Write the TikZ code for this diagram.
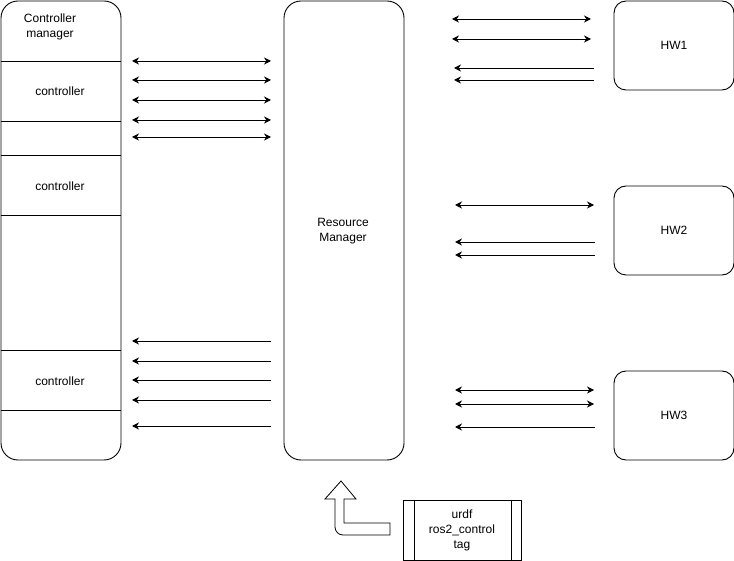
\documentclass[tikz,border=0pt]{standalone}
\usepackage{fontspec}
\setmainfont{Liberation Sans}
\usetikzlibrary{arrows.meta,calc}
\begin{document}
\begin{tikzpicture}[x=1pt,y=-1pt,line width=0.9pt,
  rbox/.style={draw,rounded corners=17pt,inner sep=0pt},
  hwbox/.style={draw,rounded corners=12pt,inner sep=0pt,minimum width=120pt,minimum height=89pt},
  lbl/.style={font=\fontsize{12}{15}\selectfont,align=center,inner sep=0pt},
  bi/.style={{Stealth[length=7pt,width=7pt]}-{Stealth[length=7pt,width=7pt]}},
  lt/.style={{Stealth[length=7pt,width=7pt]}-}]
\useasboundingbox (0,0) rectangle (734,561);
% left column: controller manager
\node[rbox,minimum width=120pt,minimum height=459pt] (cm) at (61,230.5) {};
\foreach \y [count=\i] in {61,121,155,215,350,410}
  \draw[line width=0.8pt] (cm.west |- 0,\y) coordinate (dl\i) -- (cm.east |- 0,\y) coordinate (dr\i);
\node[lbl] (cmt) at (50,26.5) {Controller\\manager};
\node[lbl] (c1) at (60,91) {controller};
\node[lbl] (c2) at (60,186) {controller};
\node[lbl] (c3) at (60,381) {controller};
% resource manager
\node[rbox,minimum width=120pt,minimum height=459pt] (rm) at (344,230.5) {};
\node[lbl] (rmt) at (343,231) {Resource\\Manager};
% hardware
\node[hwbox,lbl] (hw1) at (674,45.5) {HW1};
\node[hwbox,lbl] (hw2) at (674,230.5) {HW2};
\node[hwbox,lbl] (hw3) at (674,415.5) {HW3};
% urdf box
\node[draw,minimum width=118pt,minimum height=60pt,lbl] (urdf) at (462,530) {urdf\\ros2\_control\\tag};
\draw ($(urdf.north west)+(12,0)$) -- ($(urdf.south west)+(12,0)$);
\draw ($(urdf.north east)+(-10,0)$) -- ($(urdf.south east)+(-10,0)$);
% big bent arrow
\draw[line width=0.8pt,line join=miter] (390,523) -- (344,523) -- (344,499) -- (356,499) -- (341,481) -- (325,499) -- (335,499) -- (335,527) .. controls (335,531.4) and (338.6,535) .. (343,535) -- (390,535) -- cycle;
% left arrows
\foreach \y [count=\i] in {61,80,100,120,137} {
  \coordinate (la\i) at (132,\y); \coordinate (lb\i) at (271,\y);
  \draw[bi] (la\i) -- (lb\i);}
\foreach \y [count=\i] in {341,361,380,400,426} {
  \coordinate (ma\i) at (132,\y); \coordinate (mb\i) at (271,\y);
  \draw[lt] (ma\i) -- (mb\i);}
% right arrows HW1
\foreach \y [count=\i] in {19,39} {
  \coordinate (ra\i) at (452,\y); \coordinate (rb\i) at (591,\y);
  \draw[bi] (ra\i) -- (rb\i);}
\foreach \y [count=\i] in {68,80} {
  \coordinate (sa\i) at (454,\y); \coordinate (sb\i) at (594,\y);
  \draw[lt] (sa\i) -- (sb\i);}
% HW2
\coordinate (ta1) at (455,205); \coordinate (tb1) at (594,205);
\draw[bi] (ta1) -- (tb1);
\foreach \y [count=\i] in {242,255} {
  \coordinate (ua\i) at (455,\y); \coordinate (ub\i) at (595,\y);
  \draw[lt] (ua\i) -- (ub\i);}
% HW3
\foreach \y [count=\i] in {390,404} {
  \coordinate (va\i) at (455,\y); \coordinate (vb\i) at (594,\y);
  \draw[bi] (va\i) -- (vb\i);}
\coordinate (wa1) at (455,427); \coordinate (wb1) at (595,427);
\draw[lt] (wa1) -- (wb1);
\end{tikzpicture}
\end{document}
